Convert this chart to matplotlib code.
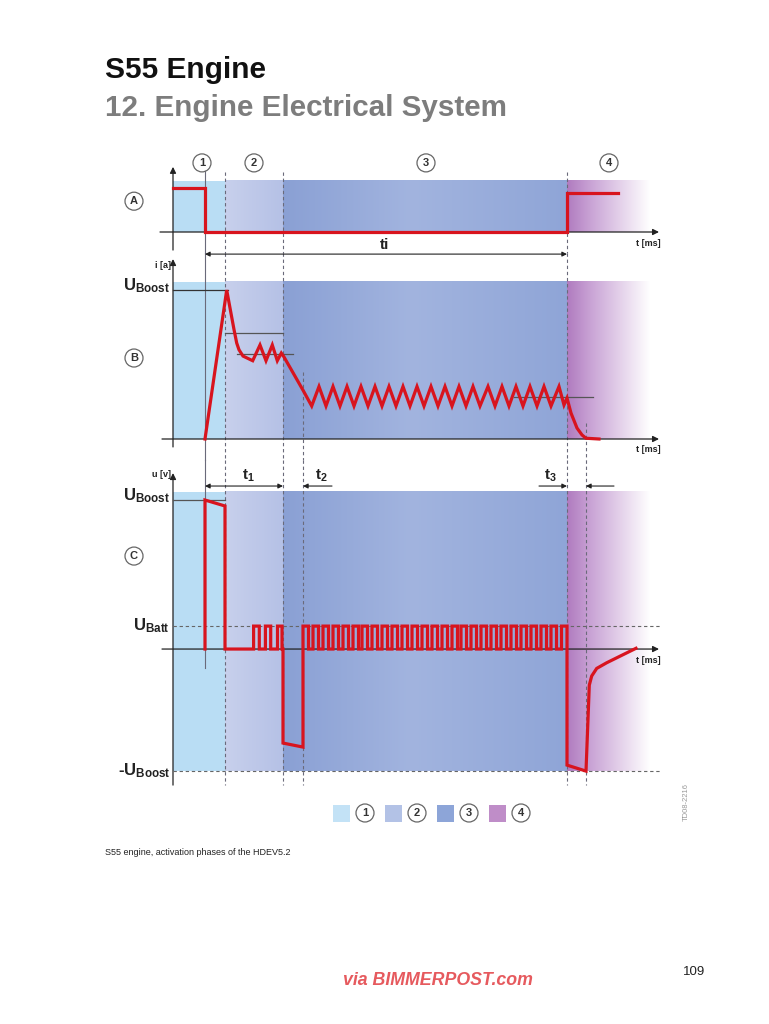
import matplotlib
matplotlib.use('Agg')
import numpy as np
import matplotlib.pyplot as plt
from matplotlib.colors import LinearSegmentedColormap
from matplotlib.patches import Rectangle
from matplotlib.transforms import blended_transform_factory

plt.rcParams['font.family'] = ['Liberation Sans', 'DejaVu Sans']
plt.rcParams['mathtext.fontset'] = 'custom'
plt.rcParams['mathtext.rm'] = 'Liberation Sans'
plt.rcParams['mathtext.bf'] = 'Liberation Sans:bold'
plt.rcParams['mathtext.it'] = 'Liberation Sans:italic'

W, H = 769, 1024

# ---- data (time in arbitrary units, t=0 = start of injection) ----
phase_edges = [-3.2, 2.0, 7.8, 36.2, 44.5]
ti_end = 36.2
t2_end = 9.8
t3_end = 38.1

# A: control signal
a_t = [-3.2, 0, 0, 36.2, 36.2, 41.3]
a_v = [1.0, 1.0, 0, 0, 0.88, 0.88]

# B: coil current
b_t = [0, 2.17, 2.9, 3.17, 3.4, 3.8, 4.77, 5.5, 6.1, 6.73, 7.23, 7.63, 7.9, 9.83, 10.67,
       11.4, 12.1, 12.8, 13.5, 14.2, 14.9, 15.6, 16.3, 17.0, 17.7, 18.4, 19.1,
       19.8, 20.5, 21.2, 21.9, 22.6, 23.3, 24.0, 24.7, 25.4, 26.1, 26.8, 27.5,
       28.3, 29.0, 29.7, 30.4, 31.1, 31.8, 32.5, 33.2, 33.9, 34.6, 35.4, 35.9,
       36.2, 36.6, 37.2, 37.7, 38.1, 39.4]
b_i = [0, 9.93, 7.3, 6.4, 5.95, 5.53, 5.22, 6.27, 5.22, 6.27, 5.22, 5.73, 5.47, 3.22, 2.2,
       3.5, 2.2, 3.5, 2.2, 3.5, 2.2, 3.5, 2.2, 3.5, 2.2, 3.5, 2.2,
       3.5, 2.2, 3.5, 2.2, 3.5, 2.2, 3.5, 2.2, 3.5, 2.2, 3.5, 2.2,
       3.5, 2.2, 3.5, 2.2, 3.5, 2.2, 3.5, 2.2, 3.5, 2.2, 3.5, 2.27,
       2.73, 1.73, 0.73, 0.27, 0.05, 0]
b_boost = 9.93
b_refs = [(2.0, 7.8, 7.07), (3.2, 8.8, 5.67), (30.9, 38.8, 2.8)]

# C: coil voltage
c_boost = 10.0
c_batt = 1.54
c_neg_boost = -8.19
c_head_t = [0, 0, 2.0, 2.0]
c_head_v = [0, 10.0, 9.6, 0]
c_pulses2 = [(4.86, 5.43), (6.04, 6.57), (7.25, 7.7)]
c_mid_t = [7.8, 7.8, 9.8]
c_mid_v = [0, -6.31, -6.58]
c_pulses3 = [(9.8, 10.35), (10.8, 11.35), (11.8, 12.35), (12.8, 13.35), (13.8, 14.35),
             (14.8, 15.35), (15.7, 16.25), (16.7, 17.25), (17.7, 18.25), (18.7, 19.25),
             (19.7, 20.25), (20.7, 21.25), (21.7, 22.25), (22.7, 23.25), (23.7, 24.25),
             (24.7, 25.25), (25.6, 26.15), (26.6, 27.15), (27.6, 28.15), (28.6, 29.15),
             (29.6, 30.15), (30.6, 31.15), (31.6, 32.15), (32.6, 33.15), (33.6, 34.15),
             (34.6, 35.15), (35.65, 36.2)]
c_tail_t = [36.2, 38.1, 38.43, 38.67, 39.17, 40.17, 41.67, 43.1]
c_tail_v = [-7.79, -8.19, -2.42, -1.81, -1.30, -0.92, -0.42, 0.05]

legend_labels = ['1', '2', '3', '4']

# ---- styling ----
RED = '#d8141e'
AX = '#222222'
GUIDE = '#6a6a7a'
P1 = '#b9ddf4'
P2 = ['#c8d0ec', '#b5c1e6']
P3 = [(0, '#8aa0d4'), (0.45, '#a2b4df'), (1, '#8fa5d7')]
P4 = [(0, '#b07bbf'), (0.3, '#caa5d6'), (1, '#ffffff')]
LEG_COLORS = ['#c3e2f6', '#b3c2e6', '#8da5d8', '#bf8dc8']

X0, X1 = 150, 665
XMIN, XMAX = -5.5, 46.0

fig = plt.figure(figsize=(W / 100, H / 100), dpi=100)
fig.patch.set_facecolor('white')


def add_panel(top, bottom, ylim):
    ax = fig.add_axes([X0 / W, 1 - bottom / H, (X1 - X0) / W, (bottom - top) / H])
    ax.axis('off')
    ax.set_xlim(XMIN, XMAX)
    ax.set_ylim(*ylim)
    return ax


def gradient(ax, t0, t1, y0, y1, colors):
    cmap = LinearSegmentedColormap.from_list('g', colors)
    ax.imshow(np.linspace(0, 1, 256)[None, :], cmap=cmap, extent=[t0, t1, y0, y1],
              aspect='auto', interpolation='bilinear', zorder=0)


def shade(ax, y0, y1):
    ax.fill_between(phase_edges[0:2], y0, y1, color=P1, lw=0, zorder=0)
    gradient(ax, phase_edges[1], phase_edges[2], y0, y1, P2)
    gradient(ax, phase_edges[2], phase_edges[3], y0, y1, P3)
    gradient(ax, phase_edges[3], phase_edges[4], y0, y1, P4)


def arrow(ax, start, end, style='-|>', lw=0.9, ms=9, color=AX):
    ax.annotate('', xy=end, xytext=start, annotation_clip=False,
                arrowprops=dict(arrowstyle=style, lw=lw, color=color,
                                mutation_scale=ms, shrinkA=0, shrinkB=0))


def axes_lines(ax, ybot, ytop, xleft):
    arrow(ax, (xleft, 0), (45.4, 0))
    arrow(ax, (phase_edges[0], ybot), (phase_edges[0], ytop))


def badge(ax, x, y, s, size=8, transform=None):
    kw = dict(transform=transform) if transform is not None else {}
    ax.text(x, y, s, ha='center', va='center', fontsize=size, weight='bold', color='#333',
            clip_on=False, zorder=6,
            bbox=dict(boxstyle='circle,pad=0.36', fc='white', ec='#666', lw=0.9), **kw)


def square_wave(pulses, level):
    t, v = [], []
    for r, f in pulses:
        t += [r, r, f, f]
        v += [0, level, level, 0]
    return t, v


def guides(ax, specs, span):
    tr = blended_transform_factory(ax.transData, fig.transFigure)
    for t, top, bot, ls in specs:
        a, b = max(top, span[0]), min(bot, span[1])
        if a < b:
            ax.plot([t, t], [1 - a / H, 1 - b / H], transform=tr, color=GUIDE, lw=0.8,
                    ls=ls, dashes=(3, 2.5) if ls == '--' else (None, None), clip_on=False, zorder=2)


guide_specs = [(0, 170, 668, '-'), (phase_edges[1], 172, 785, '--'),
               (phase_edges[2], 172, 785, '--'), (t2_end, 372, 785, '--'),
               (ti_end, 172, 785, '--'), (t3_end, 423, 785, '--')]

# ---- panel A ----
axA = add_panel(160, 250, (-0.409, 1.636))
shade(axA, 0, 1.16)
guides(axA, guide_specs, (150, 253))
axes_lines(axA, -0.41, 1.48, -4.5)
axA.plot(a_t, a_v, color=RED, lw=2.3, solid_joinstyle='miter', zorder=5)
for x, s in zip([-0.3, 4.9, 22.1, 40.4], legend_labels):
    badge(axA, x, 1.57, s)
badge(axA, -7.1, 0.70, 'A')
axA.text(43.1, -0.25, 't [ms]', fontsize=6.5, weight='bold', color=AX, va='center')

# ---- panel B ----
axB = add_panel(255, 452, (-0.867, 12.27))
shade(axB, 0, 10.47)
guides(axB, guide_specs, (253, 460))
axes_lines(axB, -0.53, 12.0, -4.3)
axB.plot([phase_edges[0], 2.3], [b_boost, b_boost], color='#333', lw=0.9, zorder=3)
for x0, x1, y in b_refs:
    axB.plot([x0, x1], [y, y], color='#555', lw=0.9, zorder=3)
axB.plot(b_t, b_i, color=RED, lw=2.3, solid_joinstyle='miter', zorder=5)
arrow(axB, (0, 12.33), (ti_end, 12.33), style='<|-|>', lw=0.8, ms=7)
axB.text(18, 12.95, 'ti', fontsize=11, weight='bold', color=AX, ha='center', va='center')
axB.text(-3.5, b_boost, r'$\mathbf{U_{Boost}}$', fontsize=12, color=AX, ha='right', va='baseline')
axB.text(-3.4, 11.6, 'i [a]', fontsize=6.5, weight='bold', color=AX, ha='right', va='center')
badge(axB, -7.1, 5.4, 'B')
axB.text(43.1, -0.67, 't [ms]', fontsize=6.5, weight='bold', color=AX, va='center')

# ---- panel C ----
axC = add_panel(468, 790, (-9.46, 12.15))
shade(axC, c_neg_boost, 10.54)
guides(axC, guide_specs, (460, 800))
axes_lines(axC, -9.13, 11.81, -4.3)
axC.plot([phase_edges[0], 2.0], [c_boost, c_boost], color='#555', lw=0.9, zorder=3)
for y in (c_batt, c_neg_boost):
    axC.plot([phase_edges[0], 45.5], [y, y], color='#666', lw=0.8, dashes=(3, 2.5), zorder=3)
s2_t, s2_v = square_wave(c_pulses2, c_batt)
s3_t, s3_v = square_wave(c_pulses3, c_batt)
c_t = c_head_t + s2_t + c_mid_t + s3_t + c_tail_t
c_v = c_head_v + s2_v + c_mid_v + s3_v + c_tail_v
axC.plot(c_t, c_v, color=RED, lw=2.3, solid_joinstyle='miter', zorder=5)

arrow(axC, (0, 10.94), (phase_edges[2], 10.94), style='<|-|>', lw=0.8, ms=7)
arrow(axC, (12.7, 10.94), (t2_end, 10.94), style='-|>', lw=0.8, ms=7)
arrow(axC, (33.4, 10.94), (ti_end, 10.94), style='-|>', lw=0.8, ms=7)
arrow(axC, (40.9, 10.94), (t3_end, 10.94), style='-|>', lw=0.8, ms=7)
axC.text(4.3, 11.6, r'$\mathbf{t_1}$', fontsize=11, color=AX, ha='center', va='center')
axC.text(11.6, 11.6, r'$\mathbf{t_2}$', fontsize=11, color=AX, ha='center', va='center')
axC.text(34.5, 11.6, r'$\mathbf{t_3}$', fontsize=11, color=AX, ha='center', va='center')

axC.text(-3.5, c_boost, r'$\mathbf{U_{Boost}}$', fontsize=12, color=AX, ha='right', va='baseline')
axC.text(-3.5, c_batt - 0.3, r'$\mathbf{U_{Batt}}$', fontsize=12, color=AX, ha='right', va='baseline')
axC.text(-3.5, c_neg_boost - 0.25, r'-$\mathbf{U_{Boost}}$', fontsize=12, weight='bold',
         color=AX, ha='right', va='baseline')
axC.text(-3.4, 11.74, 'u [v]', fontsize=6.5, weight='bold', color=AX, ha='right', va='center')
badge(axC, -7.1, 6.24, 'C')
axC.text(43.1, -0.74, 't [ms]', fontsize=6.5, weight='bold', color=AX, va='center')

# ---- legend ----
for i, (c, s) in enumerate(zip(LEG_COLORS, legend_labels)):
    x = 333 + i * 52
    fig.add_artist(Rectangle((x / W, 1 - 822 / H), 17 / W, 17 / H, transform=fig.transFigure,
                             fc=c, ec='none'))
    badge(fig, (x + 32) / W, 1 - 813 / H, s, transform=fig.transFigure)

fig.text(686 / W, 1 - 802 / H, 'TD08-2216', rotation=90, fontsize=5.5, color='#9a9a9a',
         ha='center', va='center')

# ---- page text ----
fig.text(105 / W, 1 - 78 / H, 'S55 Engine', fontsize=21.5, weight='bold', color='#111',
         va='baseline')
fig.text(105 / W, 1 - 116 / H, '12. Engine Electrical System', fontsize=21.3, weight='bold',
         color='#7d7d7d', va='baseline')
fig.text(105 / W, 1 - 855 / H, 'S55 engine, activation phases of the HDEV5.2', fontsize=6.5,
         color='#222', va='baseline')
fig.text(343 / W, 1 - 985 / H, 'via BIMMERPOST.com', fontsize=12.8, weight='bold',
         style='italic', color='#e65a5e', va='baseline')
fig.text(705 / W, 1 - 975 / H, '109', fontsize=9.5, color='#222', ha='right', va='baseline')

fig.savefig('out.png', dpi=100, facecolor='white')
